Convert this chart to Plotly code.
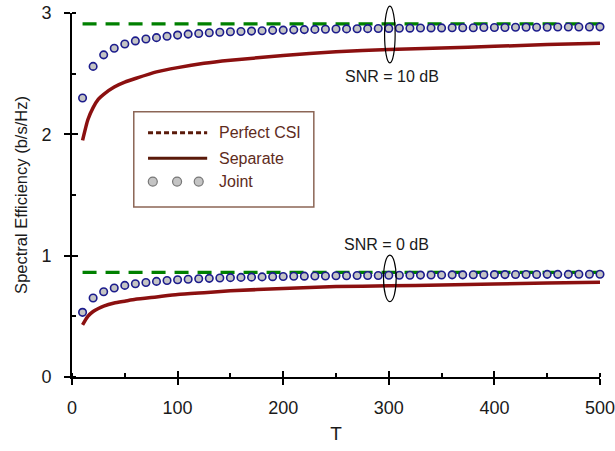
import plotly.graph_objects as go

# ---------------- data ----------------
T_joint = [10, 20, 30, 40, 50, 60, 70, 80, 90, 100,
           110, 120, 130, 140, 150, 160, 170, 180, 190, 200,
           210, 220, 230, 240, 250, 260, 270, 280, 290, 300,
           310, 320, 330, 340, 350, 360, 370, 380, 390, 400,
           410, 420, 430, 440, 450, 460, 470, 480, 490, 500]

joint_10dB = [2.30, 2.56, 2.655, 2.71, 2.745, 2.77, 2.786, 2.797, 2.808, 2.818,
              2.826, 2.831, 2.837, 2.841, 2.845, 2.848, 2.851, 2.854, 2.857, 2.859,
              2.861, 2.863, 2.865, 2.866, 2.868, 2.869, 2.870, 2.871, 2.872, 2.873,
              2.874, 2.875, 2.876, 2.877, 2.877, 2.878, 2.879, 2.879, 2.880, 2.881,
              2.881, 2.882, 2.882, 2.883, 2.883, 2.884, 2.884, 2.885, 2.885, 2.886]

joint_0dB = [0.533, 0.651, 0.703, 0.733, 0.755, 0.768, 0.779, 0.788, 0.795, 0.801,
             0.806, 0.810, 0.813, 0.816, 0.819, 0.821, 0.823, 0.825, 0.827, 0.828,
             0.830, 0.831, 0.832, 0.833, 0.834, 0.835, 0.836, 0.837, 0.837, 0.838,
             0.839, 0.839, 0.840, 0.841, 0.841, 0.842, 0.842, 0.843, 0.843, 0.844,
             0.844, 0.845, 0.845, 0.845, 0.846, 0.846, 0.846, 0.847, 0.847, 0.847]

T_sep = [10, 15, 20, 25, 30, 40, 50, 60, 80, 100, 125, 150, 200, 250, 300, 350, 400, 450, 500]
separate_10dB = [1.95, 2.12, 2.22, 2.29, 2.33, 2.39, 2.43, 2.46, 2.515, 2.55, 2.585, 2.61,
                 2.65, 2.68, 2.70, 2.712, 2.725, 2.74, 2.75]
separate_0dB = [0.43, 0.50, 0.54, 0.565, 0.585, 0.61, 0.625, 0.64, 0.66, 0.68, 0.695, 0.71,
                0.73, 0.745, 0.752, 0.758, 0.767, 0.774, 0.78]

T_perfect = [10, 500]
perfect_10dB = [2.91, 2.91]
perfect_0dB = [0.863, 0.863]

legend_labels = ["Perfect CSI", "Separate", "Joint"]
snr_labels = ["SNR = 10 dB", "SNR = 0 dB"]

# ---------------- styles ----------------
GREEN = "#008000"
RED = "#8B1010"
MK_FILL = "#C4C4C4"
MK_EDGE = "#1C1C8C"
BROWN_TXT = "#5E2B1C"
BROWN_LINE = "#5A1A0A"
BROWN_BOX = "#8C6656"
AX_FONT = "Liberation Sans, Arial, sans-serif"
TXT_FONT = "Liberation Sans, Arial, sans-serif"

fig = go.Figure()

for yv in (perfect_10dB, perfect_0dB):
    fig.add_trace(go.Scatter(x=T_perfect, y=yv, mode="lines", showlegend=False,
                             line=dict(color=GREEN, width=3.2, dash="14px,9px")))
for yv in (separate_10dB, separate_0dB):
    fig.add_trace(go.Scatter(x=T_sep, y=yv, mode="lines", showlegend=False,
                             line=dict(color=RED, width=3.5, shape="spline", smoothing=0.5)))
for yv in (joint_10dB, joint_0dB):
    fig.add_trace(go.Scatter(x=T_joint, y=yv, mode="markers", showlegend=False,
                             cliponaxis=False,
                             marker=dict(size=7.5, color=MK_FILL,
                                         line=dict(color=MK_EDGE, width=1.6))))

# dummy trace so the overlay axes (inner halves of major ticks) are drawn
fig.add_trace(go.Scatter(x=[None], y=[None], xaxis="x2", yaxis="y2",
                         showlegend=False, hoverinfo="skip"))

axis_common = dict(showgrid=False, zeroline=False, showline=True, linecolor="black",
                   linewidth=2, ticks="outside", ticklen=6, tickwidth=2, tickcolor="black",
                   automargin=False, ticklabeloverflow="allow",
                   tickfont=dict(family=AX_FONT, size=18, color="#1a1a1a"))

fig.update_layout(
    width=615, height=451,
    margin=dict(l=72, r=15, t=13, b=74, autoexpand=False),
    paper_bgcolor="white", plot_bgcolor="white",
    showlegend=False,
    xaxis=dict(range=[0, 500], tick0=0, dtick=100,
               minor=dict(ticks="inside", ticklen=4, tickwidth=1.5, tickcolor="black", dtick=50),
               title=dict(text="T", font=dict(family=AX_FONT, size=19, color="#1a1a1a"),
                          standoff=10),
               ticklabelstandoff=7,
               **axis_common),
    yaxis=dict(range=[0, 3], tick0=0, dtick=1,
               minor=dict(ticks="inside", ticklen=4, tickwidth=1.5, tickcolor="black", dtick=0.5),
               title=dict(text="Spectral Efficiency (b/s/Hz)",
                          font=dict(family=AX_FONT, size=16.5, color="#1a1a1a"), standoff=10),
               ticklabelstandoff=9,
               **axis_common),
    xaxis2=dict(overlaying="x", anchor="y", side="bottom", range=[0, 500], tick0=0, dtick=100,
                showgrid=False, zeroline=False, showline=False, showticklabels=False,
                automargin=False,
                ticks="inside", ticklen=6, tickwidth=2, tickcolor="black"),
    yaxis2=dict(overlaying="y", anchor="x", side="left", range=[0, 3], tick0=0, dtick=1,
                showgrid=False, zeroline=False, showline=False, showticklabels=False,
                automargin=False,
                ticks="inside", ticklen=6, tickwidth=2, tickcolor="black"),
)

# ellipses marking the two SNR groups
fig.add_shape(type="circle", xref="x", yref="paper", x0=296, x1=306, y0=0.863, y1=1.019,
              line=dict(color="black", width=1.2))
fig.add_shape(type="circle", xref="x", yref="paper", x0=295, x1=307, y0=0.207, y1=0.335,
              line=dict(color="black", width=1.2))

fig.add_annotation(x=303, y=2.476, text=snr_labels[0], showarrow=False,
                   font=dict(family=TXT_FONT, size=16, color="#1a1a1a"))
fig.add_annotation(x=298, y=1.096, text=snr_labels[1], showarrow=False,
                   font=dict(family=TXT_FONT, size=16, color="#1a1a1a"))

# ---------------- manual legend ----------------
fig.add_shape(type="rect", xref="paper", yref="paper", x0=0.117, x1=0.458, y0=0.467, y1=0.729,
              line=dict(color=BROWN_BOX, width=1.5), fillcolor="white", layer="above")
rows = [0.671, 0.601, 0.537]
fig.add_shape(type="line", xref="paper", yref="paper", x0=0.144, x1=0.256, y0=rows[0], y1=rows[0],
              line=dict(color=BROWN_LINE, width=3, dash="5px,3px"), layer="above")
fig.add_shape(type="line", xref="paper", yref="paper", x0=0.144, x1=0.256, y0=rows[1], y1=rows[1],
              line=dict(color=BROWN_LINE, width=3), layer="above")
for cx in (0.153, 0.199, 0.240):
    fig.add_shape(type="circle", xref="paper", yref="paper", xsizemode="pixel", ysizemode="pixel",
                  xanchor=cx, yanchor=rows[2], x0=-4.5, x1=4.5, y0=-4.5, y1=4.5,
                  fillcolor=MK_FILL, line=dict(color="#777777", width=1.2), layer="above")
for lab, ry in zip(legend_labels, rows):
    fig.add_annotation(xref="paper", yref="paper", x=0.275, y=ry, text=lab, showarrow=False,
                       xanchor="left", yanchor="middle",
                       font=dict(family=TXT_FONT, size=16, color=BROWN_TXT))

# remove the default 8px body margin so the figure sits at the window origin
fig.write_html("out.html", config={"displayModeBar": False},
               post_script="document.body.style.margin='0';document.body.style.overflow='hidden';")
